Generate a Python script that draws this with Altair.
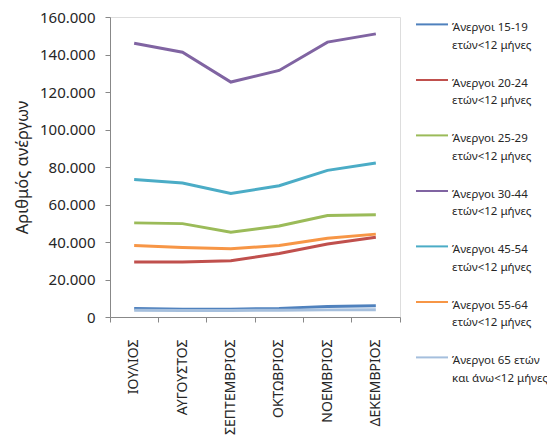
import altair as alt
import pandas as pd

months = ["ΙΟΥΛΙΟΣ", "ΑΥΓΟΥΣΤΟΣ", "ΣΕΠΤΕΜΒΡΙΟΣ", "ΟΚΤΩΒΡΙΟΣ", "ΝΟΕΜΒΡΙΟΣ", "ΔΕΚΕΜΒΡΙΟΣ"]
series_names = [
    "Άνεργοι 15-19|ετών<12 μήνες",
    "Άνεργοι 20-24|ετών<12 μήνες",
    "Άνεργοι 25-29|ετών<12 μήνες",
    "Άνεργοι 30-44|ετών<12 μήνες",
    "Άνεργοι 45-54|ετών<12 μήνες",
    "Άνεργοι  55-64|ετών<12 μήνες",
    "Άνεργοι 65 ετών|και άνω<12 μήνες",
]
v_15_19 = [4500, 4200, 4200, 4600, 5600, 6000]
v_20_24 = [29300, 29300, 30000, 33900, 38900, 42500]
v_25_29 = [50200, 49800, 45200, 48500, 54100, 54500]
v_30_44 = [146000, 141200, 125300, 131500, 146600, 151000]
v_45_54 = [73300, 71500, 65900, 70000, 78200, 82100]
v_55_64 = [38100, 37100, 36400, 38100, 42000, 44200]
v_65 = [3600, 3500, 3500, 3600, 3800, 3900]
colors = ["#4F81BD", "#C0504D", "#9BBB59", "#8064A2", "#4BACC6", "#F79646", "#A5BFDD"]
y_ticks = [0, 20000, 40000, 60000, 80000, 100000, 120000, 140000, 160000]

all_vals = [v_15_19, v_20_24, v_25_29, v_30_44, v_45_54, v_55_64, v_65]
rows = []
for name, vals in zip(series_names, all_vals):
    for m, v in zip(months, vals):
        rows.append({"month": m, "series": name, "value": v})
df = pd.DataFrame(rows)

FONT = "Noto Sans"
TXT = "#262626"

x_scale = alt.Scale(type="band", domain=months, paddingInner=0, paddingOuter=0)

lines = alt.Chart(df).mark_line(strokeWidth=3).encode(
    x=alt.X("month:N", sort=months, scale=x_scale, title=None,
            axis=alt.Axis(labelAngle=270, labelFont=FONT, labelFontSize=14,
                          labelColor=TXT, labelPadding=17, ticks=True,
                          bandPosition=1, tickExtra=True, tickSize=5,
                          domainColor="#888888", tickColor="#888888",
                          labelAlign="right", labelBaseline="middle")),
    y=alt.Y("value:Q", scale=alt.Scale(domain=[0, 160000]),
            title="Αριθμός ανέργων",
            axis=alt.Axis(values=y_ticks,
                          labelExpr="replace(format(datum.value, ','), ',', '.')",
                          labelFont=FONT, labelFontSize=15, labelColor=TXT,
                          labelPadding=10,
                          titleFont=FONT, titleFontSize=16.5, titleFontWeight="normal",
                          titleColor=TXT, titlePadding=9, grid=False,
                          domainColor="#888888", tickColor="#888888", tickSize=5)),
    color=alt.Color("series:N", sort=series_names,
                    scale=alt.Scale(domain=series_names, range=colors),
                    legend=alt.Legend(title=None, symbolType="M-1,0.15L1,0.15", symbolSize=1024,
                                      symbolStrokeWidth=2, labelFont=FONT, labelFontSize=11.5,
                                      labelColor=TXT, rowPadding=21.5, offset=15,
                                      labelBaseline="top", labelOffset=3, clipHeight=10,
                                      labelExpr="split(datum.label, '|')",
                                      labelLimit=200, padding=0)),
)

chart = lines.properties(
    width=290, height=300,
    autosize=alt.AutoSizeParams(type="none"),
    padding={"left": 102, "top": 9, "right": 147, "bottom": 118},
).configure_view(stroke=None).configure(
    style={"guide-label": {"lineHeight": 17.5}}
)

chart.save("out.html", embed_options={"renderer": "svg", "actions": False})
